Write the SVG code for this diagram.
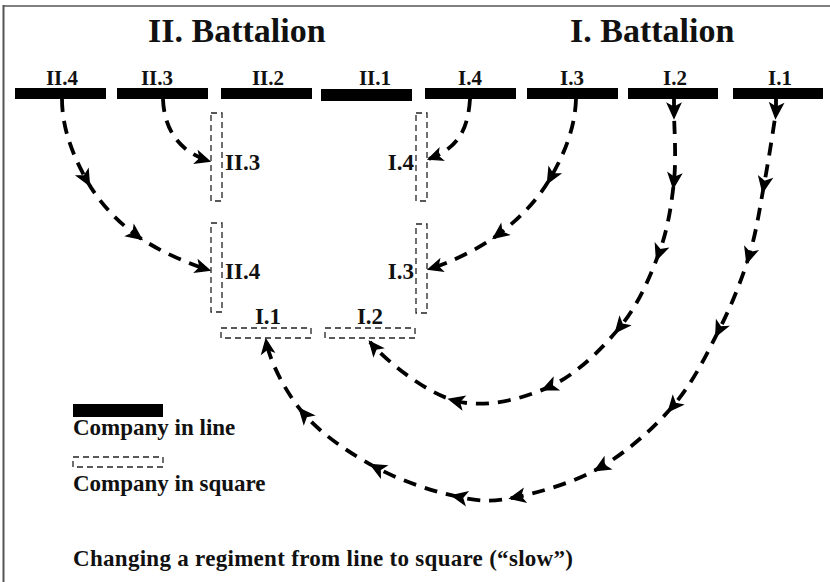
<svg xmlns="http://www.w3.org/2000/svg" width="830" height="582" viewBox="0 0 830 582">
  <defs>
    <style>
      text { font-family: "Liberation Serif", "Times New Roman", serif; font-weight: bold; fill: #111; }
      .head { font-size: 34px; }
      .lbl { font-size: 21px; text-anchor: middle; }
      .sq-lbl { font-size: 23px; }
      .leg { font-size: 23px; }
      .line-co { fill: #000; }
      .square-co { fill: none; stroke: #222; stroke-width: 1.3; stroke-dasharray: 6 4; }
      .conn { fill: none; stroke: #000; stroke-width: 3.8; stroke-dasharray: 13 9; marker-mid: url(#mid); marker-end: url(#end); }
      .arrowhead { fill: #000; stroke: #000; stroke-width: 1; stroke-linejoin: miter; stroke-dasharray: none; }
    </style>
    <marker id="mid" viewBox="-1 -1 12 12" refX="5" refY="5" markerWidth="17" markerHeight="17" markerUnits="userSpaceOnUse" orient="auto" overflow="visible">
      <path class="arrowhead" d="M0,0.5 L10,5 L0,9.5 L2.5,5 Z"/>
    </marker>
    <marker id="end" viewBox="-1 -1 12 12" refX="9.5" refY="5" markerWidth="16" markerHeight="16" markerUnits="userSpaceOnUse" orient="auto" overflow="visible">
      <path class="arrowhead" d="M0,0.5 L10,5 L0,9.5 L2.5,5 Z"/>
    </marker>
  </defs>

  <rect width="830" height="582" fill="#fff"/>
  <!-- frame -->
  <line x1="3" y1="6" x2="830" y2="6" stroke="#808080" stroke-width="2"/>
  <line x1="3.5" y1="5" x2="3.5" y2="582" stroke="#555" stroke-width="2"/>

  <!-- headings -->
  <text class="head" x="148" y="42">II. Battalion</text>
  <text class="head" x="570" y="42">I. Battalion</text>

  <!-- companies in line -->
  <g id="line-II4"><rect class="line-co" x="15" y="88" width="91" height="11"/><text class="lbl" x="62" y="85">II.4</text></g>
  <g id="line-II3"><rect class="line-co" x="117" y="88" width="91" height="11"/><text class="lbl" x="157" y="85">II.3</text></g>
  <g id="line-II2"><rect class="line-co" x="221" y="88" width="91" height="11"/><text class="lbl" x="268" y="85">II.2</text></g>
  <g id="line-II1"><rect class="line-co" x="321" y="89" width="91" height="12"/><text class="lbl" x="375" y="85">II.1</text></g>
  <g id="line-I4"><rect class="line-co" x="425" y="88" width="91" height="11"/><text class="lbl" x="470" y="85">I.4</text></g>
  <g id="line-I3"><rect class="line-co" x="527" y="88" width="91" height="11"/><text class="lbl" x="572" y="85">I.3</text></g>
  <g id="line-I2"><rect class="line-co" x="628" y="88" width="90" height="11"/><text class="lbl" x="675" y="85">I.2</text></g>
  <g id="line-I1"><rect class="line-co" x="733" y="88" width="90" height="11"/><text class="lbl" x="780" y="85">I.1</text></g>

  <!-- companies in square -->
  <g id="sq-II3"><rect class="square-co" x="211" y="113" width="11" height="88"/><text class="sq-lbl" x="225" y="170">II.3</text></g>
  <g id="sq-II4"><rect class="square-co" x="211" y="223" width="11" height="89"/><text class="sq-lbl" x="225" y="279">II.4</text></g>
  <g id="sq-I4"><rect class="square-co" x="416" y="113" width="11" height="88"/><text class="sq-lbl" x="414" y="170" text-anchor="end">I.4</text></g>
  <g id="sq-I3"><rect class="square-co" x="416" y="224" width="11" height="89"/><text class="sq-lbl" x="414" y="279" text-anchor="end">I.3</text></g>
  <g id="sq-I1"><rect class="square-co" x="221" y="328" width="90" height="10"/><text class="sq-lbl" x="268" y="324" text-anchor="middle">I.1</text></g>
  <g id="sq-I2"><rect class="square-co" x="325" y="328" width="90" height="10"/><text class="sq-lbl" x="370" y="324" text-anchor="middle">I.2</text></g>

  <!-- connectors -->
  <g id="connectors">
    <path class="conn" d="M62,99 C62,129 73.5,156.3 86,179 C98.5,201.7 115.5,219.8 136,235 C156.5,250.2 189,264 209,270"/>
    <path class="conn" d="M163,99 C164,130 180,152 209,161"/>
    <path class="conn" d="M470,99 C468,130 458,148 429,159"/>
    <path class="conn" d="M576,99 C575,129 563.8,154.5 551,177 C538.2,199.5 519.3,218.7 499,234 C478.7,249.3 449,263 429,269"/>
    <path class="conn" d="M674,99 L674,111 C674,124.7 676.5,157.3 674,181 C671.5,204.7 668,228.7 659,253 C650,277.3 638.3,304.7 620,327 C601.7,349.3 576.3,374.7 549,387 C521.7,399.3 485.8,408.5 456,401 C426.2,393.5 385,360 370,342"/>
    <path class="conn" d="M776,99 L776,111 C774,125.3 768.5,160.8 764,185 C759.5,209.2 756.5,231.8 749,256 C741.5,280.2 731.7,305 719,330 C706.3,355 692.7,383.2 673,406 C653.3,428.8 627,451.8 601,467 C575,482.2 540.7,492 517,497 C493.3,502 482.3,501.8 459,497 C435.7,492.2 402.8,481.8 377,468 C351.2,454.2 322.5,435.3 304,414 C285.5,392.7 269,360 266,340"/>
  </g>

  <!-- legend -->
  <g id="legend-line"><rect class="line-co" x="73" y="404" width="90" height="13"/><text class="leg" x="73" y="435">Company in line</text></g>
  <g id="legend-square"><rect class="square-co" x="73" y="457" width="90" height="10"/><text class="leg" x="73" y="491">Company in square</text></g>

  <text class="leg" x="73" y="566" textLength="500">Changing a regiment from line to square (“slow”)</text>
</svg>
